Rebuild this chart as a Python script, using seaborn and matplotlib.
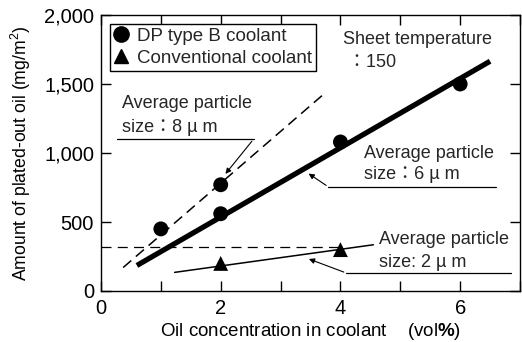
import matplotlib
matplotlib.use("Agg")
import matplotlib.pyplot as plt
import seaborn as sns
import pandas as pd
from matplotlib.lines import Line2D

# ---- data ----
dp_x = [1, 2, 2, 4, 6]
dp_y = [450, 560, 770, 1080, 1500]
conv_x = [2, 4]
conv_y = [200, 300]

fit6_x = [0.6, 6.5]
fit6_y = [185, 1665]
fit8_x = [0.37, 3.73]
fit8_y = [170, 1430]
fit2_x = [1.23, 4.55]
fit2_y = [135, 335]
ref_x = [0, 4]
ref_y = [320, 320]

x_ticks = [0, 2, 4, 6]
y_ticks = [0, 500, 1000, 1500, 2000]
y_ticklabels = ["0", "500", "1,000", "1,500", "2,000"]

sns.set_theme(style="ticks")
plt.rcParams['font.family'] = ['Liberation Sans', 'Noto Sans CJK JP', 'DejaVu Sans']
plt.rcParams['mathtext.fontset'] = 'custom'
plt.rcParams['mathtext.rm'] = 'Liberation Sans'
plt.rcParams['mathtext.it'] = 'Liberation Sans'
plt.rcParams['mathtext.bf'] = 'Liberation Sans:bold'

fig = plt.figure(figsize=(5.22, 3.42), dpi=100)
ax = fig.add_axes([101/522, 1-291/342, 419/522, 276/342])

pts = pd.DataFrame({
    'x': dp_x + conv_x,
    'y': dp_y + conv_y,
    'coolant': ['DP type B coolant'] * len(dp_x) + ['Conventional coolant'] * len(conv_x),
})

# lines
sns.lineplot(x=fit6_x, y=fit6_y, ax=ax, color='black', lw=3.8, solid_capstyle='butt')
sns.lineplot(x=fit8_x, y=fit8_y, ax=ax, color='black', lw=1.1, linestyle=(0, (7, 4)))
sns.lineplot(x=fit2_x, y=fit2_y, ax=ax, color='black', lw=1.1)
sns.lineplot(x=ref_x, y=ref_y, ax=ax, color='black', lw=0.9, linestyle=(0, (8, 5)))

sns.scatterplot(data=pts, x='x', y='y', style='coolant',
                markers={'DP type B coolant': 'o', 'Conventional coolant': '^'},
                color='black', s=115, edgecolor='black', linewidth=0, ax=ax,
                legend=False, zorder=5)

# legend
handles = [Line2D([], [], marker='o', color='black', ls='none', markersize=11),
           Line2D([], [], marker='^', color='black', ls='none', markersize=10.5)]
leg = ax.legend(handles, ['DP type B coolant', 'Conventional coolant'],
                loc='upper left', bbox_to_anchor=(0.021, 0.967),
                frameon=True, fancybox=False, fontsize=13.5, handlelength=0.8,
                handletextpad=0.45, borderpad=0.2, labelspacing=0.25,
                borderaxespad=0)
leg.get_frame().set_edgecolor('black')
leg.get_frame().set_linewidth(1.0)
leg.get_frame().set_alpha(1)

ax.set_xlim(0, 7)
ax.set_ylim(0, 2000)
ax.set_xticks(range(0, 8))
ax.set_xticklabels([str(v) if v in x_ticks else '' for v in range(0, 8)])
ax.set_yticks(y_ticks)
ax.set_yticklabels(y_ticklabels)
ax.tick_params(direction='in', top=True, right=True, length=7, width=1,
               labelsize=14.5, colors='black')
ax.tick_params(axis='x', pad=6)
ax.tick_params(axis='y', pad=5)
for s in ax.spines.values():
    s.set_visible(True)
    s.set_color('black')
    s.set_linewidth(1.0)

ax.set_xlabel('Oil concentration in coolant    (vol$\\mathbf{\\%}$)', fontsize=13.5,
              color='black', labelpad=2)
ax.set_ylabel('Amount of plated-out oil (mg/m$^2$)', fontsize=12.7, color='black')
ax.yaxis.set_label_coords(-0.163, 0.5)

# annotations
fs = 13
def two_lines(x, y1, y2, l1, l2):
    ax.text(x, y1, l1, fontsize=fs, va='center', ha='left')
    ax.text(x, y2, l2, fontsize=fs, va='center', ha='left')

two_lines(0.35, 1362, 1188, 'Average particle', 'size：8 µ m')
ax.plot([0.27, 2.55], [1101, 1101], color='black', lw=0.9)
ax.annotate('', xy=(2.05, 833), xytext=(2.55, 1101),
            arrowprops=dict(arrowstyle='-|>', color='black', lw=0.8, mutation_scale=8))

two_lines(4.39, 1000, 841, 'Average particle', 'size：6 µ m')
ax.plot([3.8, 6.6], [754, 754], color='black', lw=0.9)
ax.annotate('', xy=(3.43, 862), xytext=(3.8, 754),
            arrowprops=dict(arrowstyle='-|>', color='black', lw=0.8, mutation_scale=8))

two_lines(4.64, 370, 203, 'Average particle', 'size: 2 µ m')
ax.plot([4.1, 6.85], [130, 130], color='black', lw=0.9)
ax.annotate('', xy=(3.43, 239), xytext=(4.1, 130),
            arrowprops=dict(arrowstyle='-|>', color='black', lw=0.8, mutation_scale=8))

two_lines(4.05, 1826, 1659, 'Sheet temperature', ' ：150')

fig.savefig('out.png', dpi=100)
